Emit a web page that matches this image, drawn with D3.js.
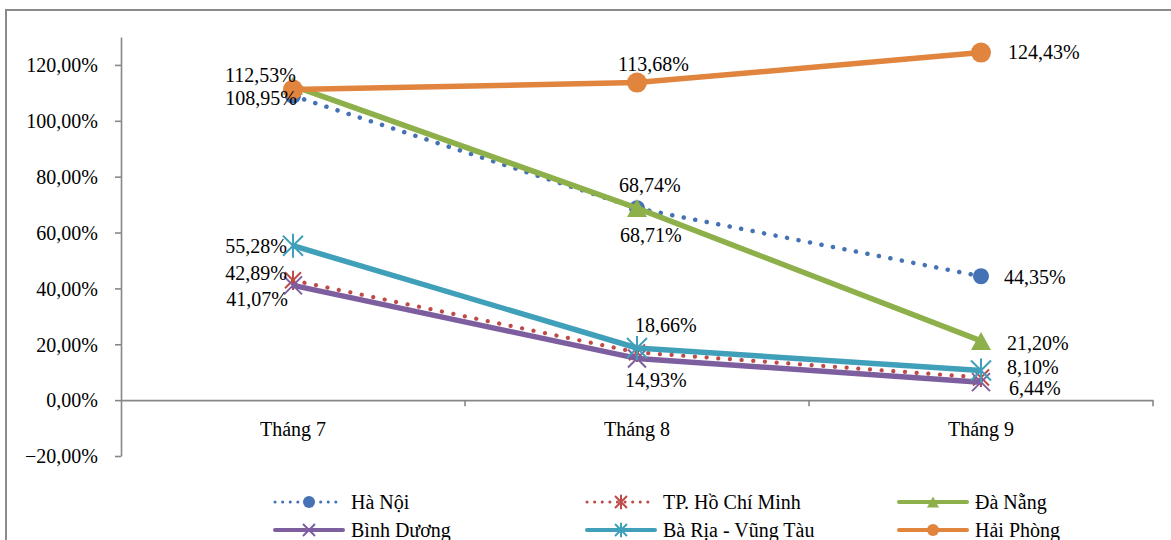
<!DOCTYPE html>
<html>
<head>
<meta charset="utf-8">
<script src="https://cdn.jsdelivr.net/npm/d3@7/dist/d3.min.js"></script>
<style>
  html, body { margin: 0; padding: 0; background: #fff; }
  svg text { font-family: "Liberation Serif", "Times New Roman", serif; fill: #000; }
</style>
</head>
<body>
<svg id="chart" width="1171" height="540"></svg>
<script>
// Monthly growth rates by province/city
const months = ["Tháng 7", "Tháng 8", "Tháng 9"];
const seriesNames = ["Hà Nội", "TP. Hồ Chí Minh", "Đà Nẵng", "Bình Dương", "Bà Rịa - Vũng Tàu", "Hải Phòng"];
const haNoi     = [108.95, 68.71, 44.35];
const hoChiMinh = [42.89, 17.10, 8.10];
const daNang    = [112.53, 68.74, 21.20];
const binhDuong = [41.07, 14.93, 6.44];
const baRia     = [55.28, 18.66, 10.60];
const haiPhong  = [111.20, 113.68, 124.43];
const yTickValues = [-20, 0, 20, 40, 60, 80, 100, 120];
// Which points carry a value label
const labelShown = [
  [true, true, true],
  [true, false, true],
  [true, true, true],
  [true, true, true],
  [true, true, false],
  [false, true, true]
];

const values = [haNoi, hoChiMinh, daNang, binhDuong, baRia, haiPhong];

// Styling per series
const styles = [
  { color: "#4472B4", dotted: true,  width: 4.5, marker: "circle",   size: 8 },
  { color: "#BE4B48", dotted: true,  width: 4.2, marker: "star",     size: 8 },
  { color: "#8DB04B", dotted: false, width: 5.5, marker: "triangle", size: 10 },
  { color: "#7D5FA0", dotted: false, width: 5.5, marker: "x",        size: 9 },
  { color: "#40A0BA", dotted: false, width: 5.5, marker: "star",     size: 10 },
  { color: "#E0843E", dotted: false, width: 5.5, marker: "circle",   size: 10 }
];

// Data label placement relative to its point: [dx, dy, anchor]
const labelLayout = [
  [[4, 2, "end"],   [-17, 27, "start"], [23, 1, "start"]],
  [[-6, -7, "end"], null,               [26, -10, "start"]],
  [[3, -11, "end"], [-18, -23, "start"], [26, 2, "start"]],
  [[-5, 14, "end"], [-12, 22, "start"], [28, 6, "start"]],
  [[-6, 0, "end"],  [-2, -23, "start"], null],
  [null,            [-19, -18, "start"], [27, 0, "start"]]
];

const FS = 20;
const svg = d3.select("#chart");

// Chart area frame
svg.append("rect")
  .attr("x", 6).attr("y", 10).attr("width", 1300).attr("height", 700)
  .attr("fill", "none").attr("stroke", "#8a8a8a").attr("stroke-width", 2);

const plotLeft = 121, plotRight = 1153;
const x = d3.scaleBand().domain(months).range([plotLeft, plotRight]).paddingInner(0).paddingOuter(0);
const cx = m => x(m) + x.bandwidth() / 2;
const y = d3.scaleLinear().domain([-20, 130]).range([456, 37]);

const fmt = v => d3.format(".2f")(v).replace(".", ",") + "%";

// Y axis
const yAxis = svg.append("g")
  .attr("transform", `translate(${plotLeft},0)`)
  .call(d3.axisLeft(y).tickValues(yTickValues).tickSize(6).tickSizeOuter(0).tickPadding(17)
    .tickFormat(fmt));
yAxis.select(".domain").attr("stroke", "#878787").attr("stroke-width", 1.6);
yAxis.selectAll(".tick line").attr("stroke", "#878787").attr("stroke-width", 1.6);
yAxis.selectAll(".tick text")
  .attr("font-family", "Liberation Serif, serif").attr("font-size", FS)
  .attr("fill", "#000").attr("dy", "0.34em");

// X axis at zero line
const xAxis = svg.append("g")
  .attr("transform", `translate(0,${y(0)})`)
  .call(d3.axisBottom(x).tickSize(0).tickSizeOuter(0).tickPadding(36));
xAxis.select(".domain").attr("stroke", "#878787").attr("stroke-width", 1.6);
xAxis.selectAll(".tick text")
  .attr("font-family", "Liberation Serif, serif").attr("font-size", FS)
  .attr("fill", "#000").attr("dy", "0");
// Category boundary ticks
const bounds = months.map(m => x(m)).concat([plotRight]);
xAxis.selectAll(".bound").data(bounds.slice(1)).join("line")
  .attr("class", "bound")
  .attr("x1", d => d).attr("x2", d => d).attr("y1", 0).attr("y2", 6)
  .attr("stroke", "#878787").attr("stroke-width", 1.6);

// Marker drawing
function drawMarker(g, type, px, py, s, color) {
  if (type === "circle") {
    g.append("circle").attr("cx", px).attr("cy", py).attr("r", s).attr("fill", color);
  } else if (type === "triangle") {
    const h = s * 1.8, w = s * 2;
    g.append("path")
      .attr("d", `M${px},${py - h / 2}L${px + w / 2},${py + h / 2}L${px - w / 2},${py + h / 2}Z`)
      .attr("fill", color);
  } else if (type === "x") {
    g.append("path")
      .attr("d", `M${px - s},${py - s}L${px + s},${py + s}M${px - s},${py + s}L${px + s},${py - s}`)
      .attr("stroke", color).attr("stroke-width", 2).attr("fill", "none");
  } else if (type === "star") {
    g.append("path")
      .attr("d", `M${px - s},${py - s}L${px + s},${py + s}M${px - s},${py + s}L${px + s},${py - s}M${px},${py - s * 1.2}L${px},${py + s * 1.2}`)
      .attr("stroke", color).attr("stroke-width", 2).attr("fill", "none");
  }
}

const line = d3.line().x((d, i) => cx(months[i])).y(d => y(d));

// Series lines and markers
values.forEach((vals, si) => {
  const st = styles[si];
  const g = svg.append("g").attr("class", "series");
  g.append("path")
    .attr("d", line(vals))
    .attr("fill", "none")
    .attr("stroke", st.color)
    .attr("stroke-width", st.width)
    .attr("stroke-linecap", st.dotted ? "round" : "butt")
    .attr("stroke-linejoin", "round")
    .attr("stroke-dasharray", st.dotted ? "0.1 11.6" : null);
  vals.forEach((v, i) => drawMarker(g, st.marker, cx(months[i]), y(v), st.size, st.color));
});

// Value labels
values.forEach((vals, si) => {
  vals.forEach((v, i) => {
    if (!labelShown[si][i]) return;
    const lay = labelLayout[si][i] || [0, 0, "middle"];
    svg.append("text")
      .attr("x", cx(months[i]) + lay[0])
      .attr("y", y(v) + lay[1])
      .attr("dy", "0.34em")
      .attr("text-anchor", lay[2])
      .attr("font-size", FS)
      .text(fmt(v));
  });
});

// Legend
const legendCols = [275, 587, 899];
const legendRows = [502, 530];
const legend = svg.append("g").attr("class", "legend");
seriesNames.forEach((name, k) => {
  const st = styles[k];
  const lx = legendCols[k % 3], ly = legendRows[Math.floor(k / 3)];
  const g = legend.append("g");
  g.append("line")
    .attr("x1", lx).attr("x2", lx + 68).attr("y1", ly).attr("y2", ly)
    .attr("stroke", st.color)
    .attr("stroke-width", st.dotted ? 3 : 4)
    .attr("stroke-linecap", "round")
    .attr("stroke-dasharray", st.dotted ? "0.1 7.5" : null);
  drawMarker(g, st.marker, lx + 34, ly, 6, st.color);
  g.append("text")
    .attr("x", lx + 76).attr("y", ly).attr("dy", "0.34em")
    .attr("font-size", FS)
    .text(name);
});
</script>
</body>
</html>
